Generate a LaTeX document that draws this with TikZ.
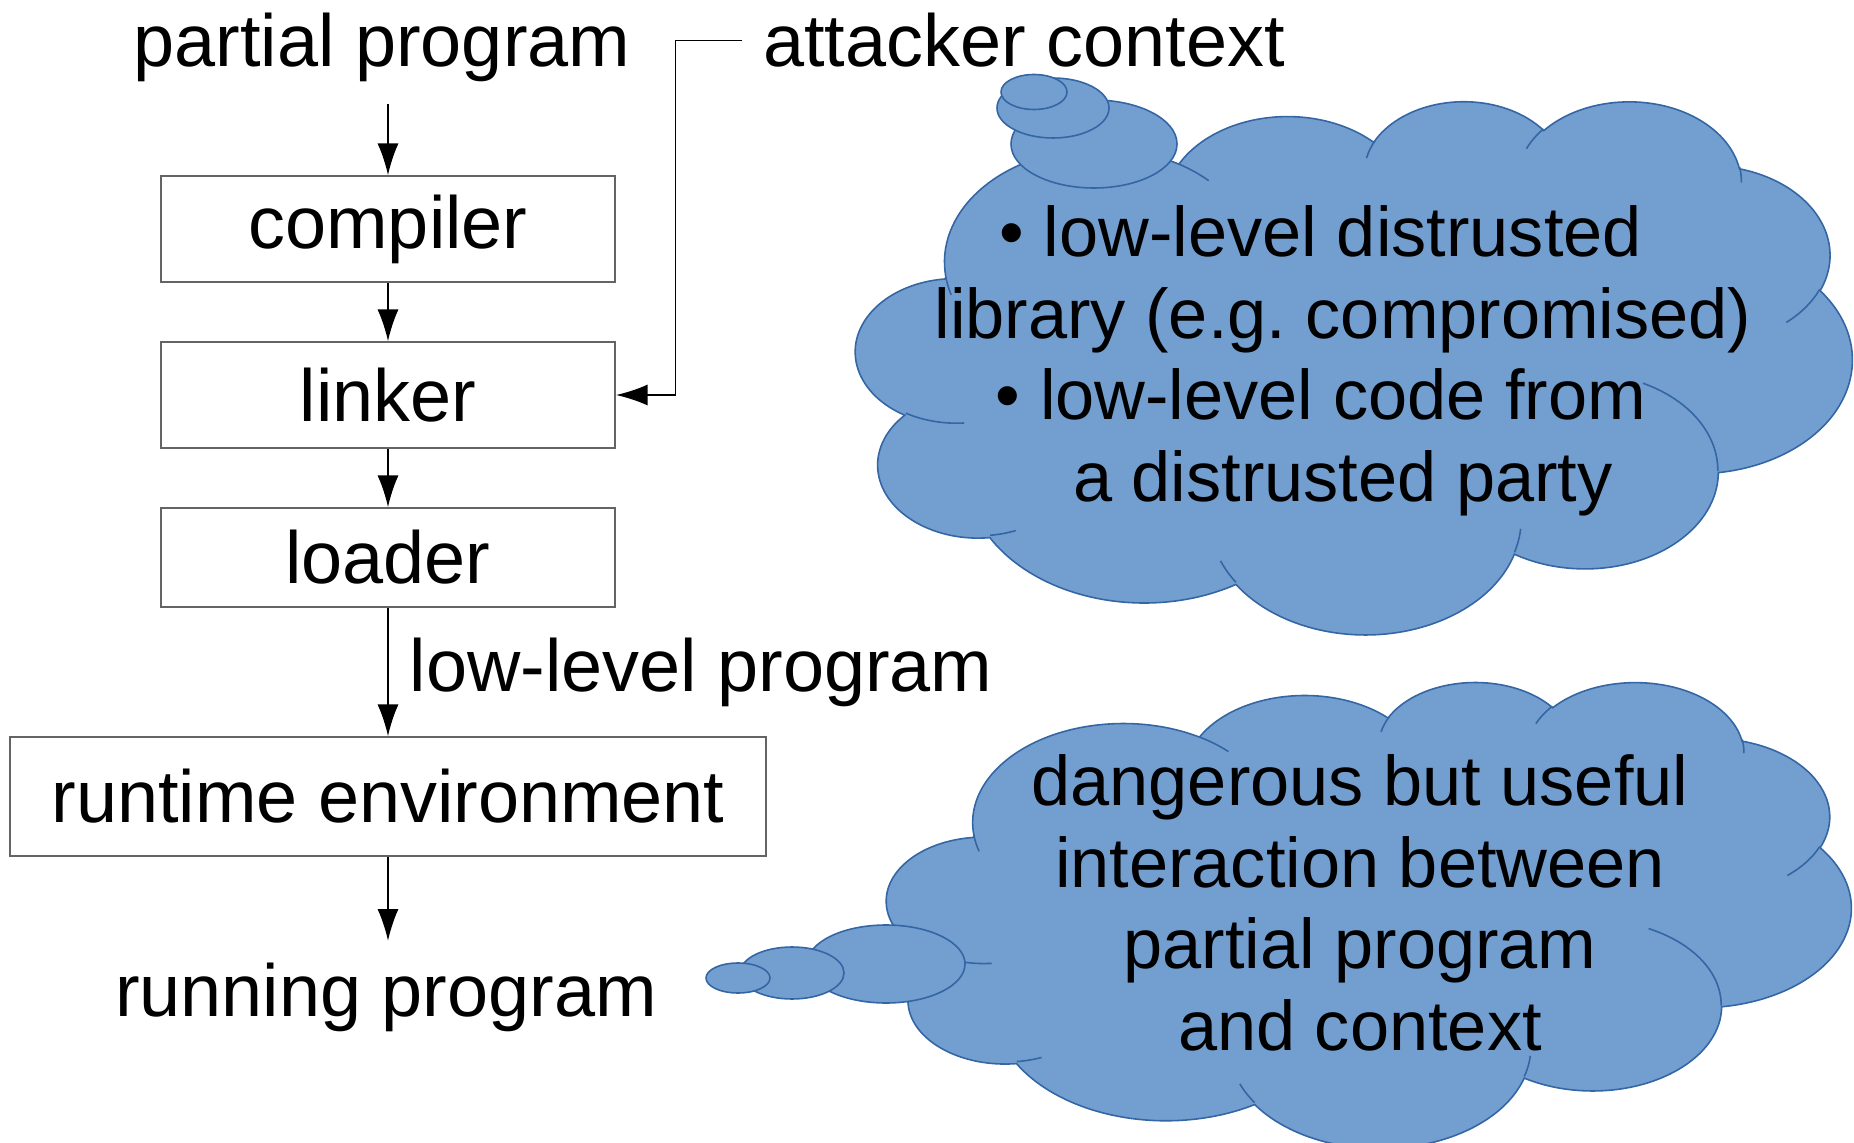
\documentclass[tikz,border=0pt]{standalone}
\usepackage{fontspec}
\setmainfont{Liberation Sans}
\usetikzlibrary{arrows.meta}
\tikzset{>={Latex[length=9pt,width=6pt]}}
\definecolor{cloudblue}{RGB}{114,159,207}
\definecolor{cloudedge}{RGB}{52,101,164}
\definecolor{boxgray}{RGB}{100,100,100}
\tikzset{
  stage/.style={draw=boxgray, line width=0.5pt, minimum width=4.54cm, minimum height=1.06cm, inner sep=0pt},
  tag/.style={inner sep=6pt},
  flow/.style={->, line width=0.45pt},
  cloudpart/.style={fill=cloudblue, draw=cloudedge, line width=0.45pt},
  cloudtext/.style={align=center, inner sep=0pt, font=\fontsize{20}{23.2}\selectfont}
}
% cloud: #1,#2 top left corner, #3 width, #4 height; puffs given as
% radii / start angle / sweep on a 43.2 x 43.2 grid
\newcommand{\CloudBody}[4]{%
  \begin{scope}[shift={(#1,#2)}, xscale=#3/43.2, yscale=#4/43.2]
    \path[cloudpart] (3.900,14.370)
      \foreach \w/\h/\a/\s in {6.753/9.190/-190.4875/123.7805, 5.333/7.267/-144.1024/89.9452,
          4.365/5.945/-145.8079/99.7230, 4.857/6.595/-130.9861/117.2417,
          5.333/7.273/-78.7089/109.0269, 6.775/9.220/-46.2673/130.2690,
          5.785/7.867/0.6250/114.0333, 6.752/9.215/22.4516/115.1726,
          7.720/10.543/66.2426/75.7110, 4.360/5.918/-274.9421/146.7356,
          4.345/5.945/-246.8285/152.5189}
        {arc[x radius=\w, y radius=\h, start angle={atan2(\w*sin(\a),\h*cos(\a))},
             delta angle={mod(atan2(\w*sin(\a+\s),\h*cos(\a+\s))-atan2(\w*sin(\a),\h*cos(\a))+720,360)}]}
      -- cycle;
    % short strokes where the puffs overlap
    \foreach \px/\py/\w/\h/\a/\s in {4.693/26.177/4.345/5.945/86.7420/26.4295,
        6.928/34.899/4.360/5.918/73.6105/11.4475, 16.478/39.090/6.752/9.215/137.6242/14.0811,
        28.827/34.751/6.752/9.215/6.4533/15.9984, 34.129/22.954/5.785/7.867/-70.2924/70.9174,
        41.798/15.354/5.333/7.273/30.3180/27.7515, 38.324/5.426/4.857/6.595/-13.7443/14.8589,
        29.078/3.952/4.857/6.595/-149.1815/18.1954, 22.141/4.720/4.365/5.945/-163.4943/17.6864,
        14.000/5.192/6.753/9.190/-66.7070/12.3194, 4.127/15.789/6.753/9.190/157.6544/11.8582}
      \draw[cloudedge, line width=0.45pt] (\px,\py)
        arc[x radius=\w, y radius=\h, start angle={atan2(\w*sin(\a),\h*cos(\a))},
            delta angle={mod(atan2(\w*sin(\a+\s),\h*cos(\a+\s))-atan2(\w*sin(\a),\h*cos(\a))+720,360)}];
  \end{scope}}

\begin{document}
\begin{tikzpicture}[x=0.01cm, y=-0.01cm, font=\fontsize{21}{23.2}\selectfont]
  \useasboundingbox (0,0) rectangle (1854,1143);
  % thought clouds with their bubbles
  \CloudBody{856}{100}{996}{533}
  \foreach \cx/\cy/\rx/\ry in {1094/144/83/44, 1053/108/56/30, 1034/92/33/17.5}
    \path[cloudpart] (\cx,\cy) ellipse[x radius=\rx, y radius=\ry];
  \CloudBody{887}{681}{964}{466}
  \foreach \cx/\cy/\rx/\ry in {886/964/79/39, 792/973/52/26, 738/978/32/15}
    \path[cloudpart] (\cx,\cy) ellipse[x radius=\rx, y radius=\ry];
  \node[cloudtext] (threats) at (1343,361) {\llap{\textbullet\ }low-level distrusted\\
    library (e.g.\ compromised)\\ \llap{\textbullet\ }low-level code from\\ a distrusted party};
  \node[cloudtext] (danger) at (1360,903) {dangerous but useful\\ interaction between\\
    partial program\\ and context};

  % tool chain
  \node[stage] (compiler) at (388,229) {compiler};
  \node[stage] (linker) at (388,395) {linker};
  \node[stage, minimum height=0.99cm] (loader) at (388,557.5) {loader};
  \node[stage, minimum width=7.56cm, minimum height=1.19cm] (runtime) at (388,796.5) {runtime environment};
  \node[tag, anchor=base] (partial) at (382,67) {partial program};
  \node[tag, anchor=base] (attacker) at (1024,67) {attacker context};
  \node[tag, anchor=base] (running) at (386,1016) {running program};

  \draw[flow] (compiler.north |- partial.south) -- (compiler);
  \draw[flow] (compiler) -- (linker);
  \draw[flow] (linker) -- (loader);
  \draw[flow] (loader) -- (runtime) node[midway, right, tag] {low-level program};
  \draw[flow] (runtime) -- (runtime.south |- running.north);
  \draw[flow] (attacker.west) -- ++(-66,0) |- (linker);
\end{tikzpicture}
\end{document}
